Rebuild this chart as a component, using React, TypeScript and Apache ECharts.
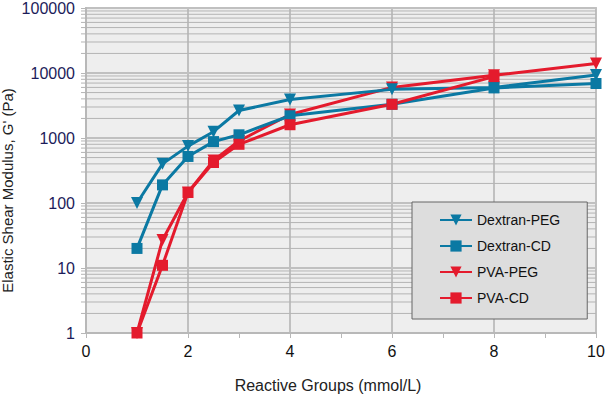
import React, { useEffect, useRef } from "react";
import * as echarts from "echarts";

const xValues = [1, 1.5, 2, 2.5, 3, 4, 6, 8, 10];
const dextranPEG = [100, 400, 750, 1250, 2650, 3900, 5600, 6000, 9300];
const dextranCD = [20, 190, 520, 880, 1120, 2200, 3300, 5900, 6900];
const pvaPEG = [1, 27, 145, 450, 900, 2300, 6000, 9200, 14000];
const pvaCD = [1, 11, 145, 420, 800, 1600, 3300, 8800];
const legendNames = ["Dextran-PEG", "Dextran-CD", "PVA-PEG", "PVA-CD"];
const minorGridValues = [
  2, 3, 4, 5, 6, 7, 8, 9,
  20, 30, 40, 50, 60, 70, 80, 90,
  200, 300, 400, 500, 600, 700, 800, 900,
  2000, 3000, 4000, 5000, 6000, 7000, 8000, 9000,
  20000, 30000, 40000, 50000, 60000, 70000, 80000, 90000,
];

const BLUE = "#0b79a3";
const RED = "#e41b2d";
const FONT = "Liberation Sans, Arial, sans-serif";

function pair(vals: number[]) {
  return vals.map((v, i) => [xValues[i], v]);
}

export default function App() {
  const ref = useRef<HTMLDivElement>(null);
  useEffect(() => {
    if (!ref.current) return;
    const chart = echarts.init(ref.current, undefined, { renderer: "svg" });
    const lineSeries = (name: string, data: number[], color: string, symbol: string, rotate: number, size: number) => ({
      name,
      type: "line",
      data: pair(data),
      symbol,
      symbolRotate: rotate,
      symbolSize: size,
      z: 3,
      lineStyle: { color, width: 3 },
      itemStyle: { color },
      emphasis: { disabled: true },
    });
    chart.setOption({
      animation: false,
      grid: {
        left: 86,
        right: 9,
        top: 8,
        bottom: 62,
        outerBoundsMode: "none",
        containLabel: false,
        show: true,
        backgroundColor: "#eeeeee",
        borderColor: "#c4c4c4",
        borderWidth: 2,
      },
      legend: {
        data: legendNames,
        orient: "vertical",
        left: 412,
        top: 202,
        padding: [11, 27, 14, 27],
        itemGap: 12,
        itemWidth: 32,
        itemHeight: 14,
        backgroundColor: "#dddddd",
        borderColor: "#666666",
        borderWidth: 1,
        borderRadius: 0,
        textStyle: { fontFamily: FONT, fontSize: 14, color: "#111111" },
      },
      xAxis: {
        type: "value",
        min: 0,
        max: 10,
        interval: 2,
        name: "Reactive Groups (mmol/L)",
        nameLocation: "middle",
        nameGap: 44,
        nameMoveOverlap: false,
        nameTextStyle: { fontFamily: FONT, fontSize: 16, color: "#222222", padding: [0, 26, 0, 0] },
        axisLine: { show: true, onZero: false, lineStyle: { color: "#b8b8b8", width: 2 } },
        axisTick: { show: true, length: 5, lineStyle: { color: "#b8b8b8", width: 1 } },
        minorTick: { show: true, splitNumber: 2, length: 5, lineStyle: { color: "#b8b8b8", width: 1 } },
        splitLine: { show: true, lineStyle: { color: "#c0c0c0", width: 2 } },
        axisLabel: { fontFamily: FONT, fontSize: 16, color: "#111111", margin: 10 },
      },
      yAxis: {
        type: "log",
        logBase: 10,
        min: 1,
        max: 100000,
        name: "Elastic Shear Modulus, G' (Pa)",
        nameLocation: "middle",
        nameGap: 71,
        nameMoveOverlap: false,
        nameRotate: 90,
        nameTextStyle: { fontFamily: FONT, fontSize: 15, color: "#222222", padding: [0, 40, 0, 0] },
        axisLine: { show: true, lineStyle: { color: "#b8b8b8", width: 2 } },
        axisTick: { show: true, length: 5, lineStyle: { color: "#b8b8b8", width: 1 } },
        splitLine: { show: true, lineStyle: { color: "#c0c0c0", width: 2 } },
        axisLabel: {
          fontFamily: FONT,
          fontSize: 16,
          color: "#1c1c5a",
          margin: 11,
          formatter: (v: number) => String(Math.round(v)),
        },
      },
      series: [
        {
          type: "custom",
          silent: true,
          z: 1,
          data: minorGridValues.map((v) => [0, v]),
          renderItem: (params: any, api: any) => {
            const v = api.value(1);
            const p0 = api.coord([0, v]);
            const p1 = api.coord([10, v]);
            return {
              type: "line",
              shape: { x1: p0[0] - 5, y1: p0[1], x2: p1[0], y2: p1[1] },
              style: { stroke: "#b4b4b4", lineWidth: 1 },
            };
          },
        },
        lineSeries("PVA-PEG", pvaPEG, RED, "triangle", 180, 12),
        lineSeries("Dextran-PEG", dextranPEG, BLUE, "triangle", 180, 12),
        lineSeries("Dextran-CD", dextranCD, BLUE, "rect", 0, 11),
        lineSeries("PVA-CD", pvaCD, RED, "rect", 0, 11),
      ],
    });
    return () => chart.dispose();
  }, []);
  return <div ref={ref} style={{ width: 605, height: 395, position: "absolute", left: 0, top: 0 }} />;
}
